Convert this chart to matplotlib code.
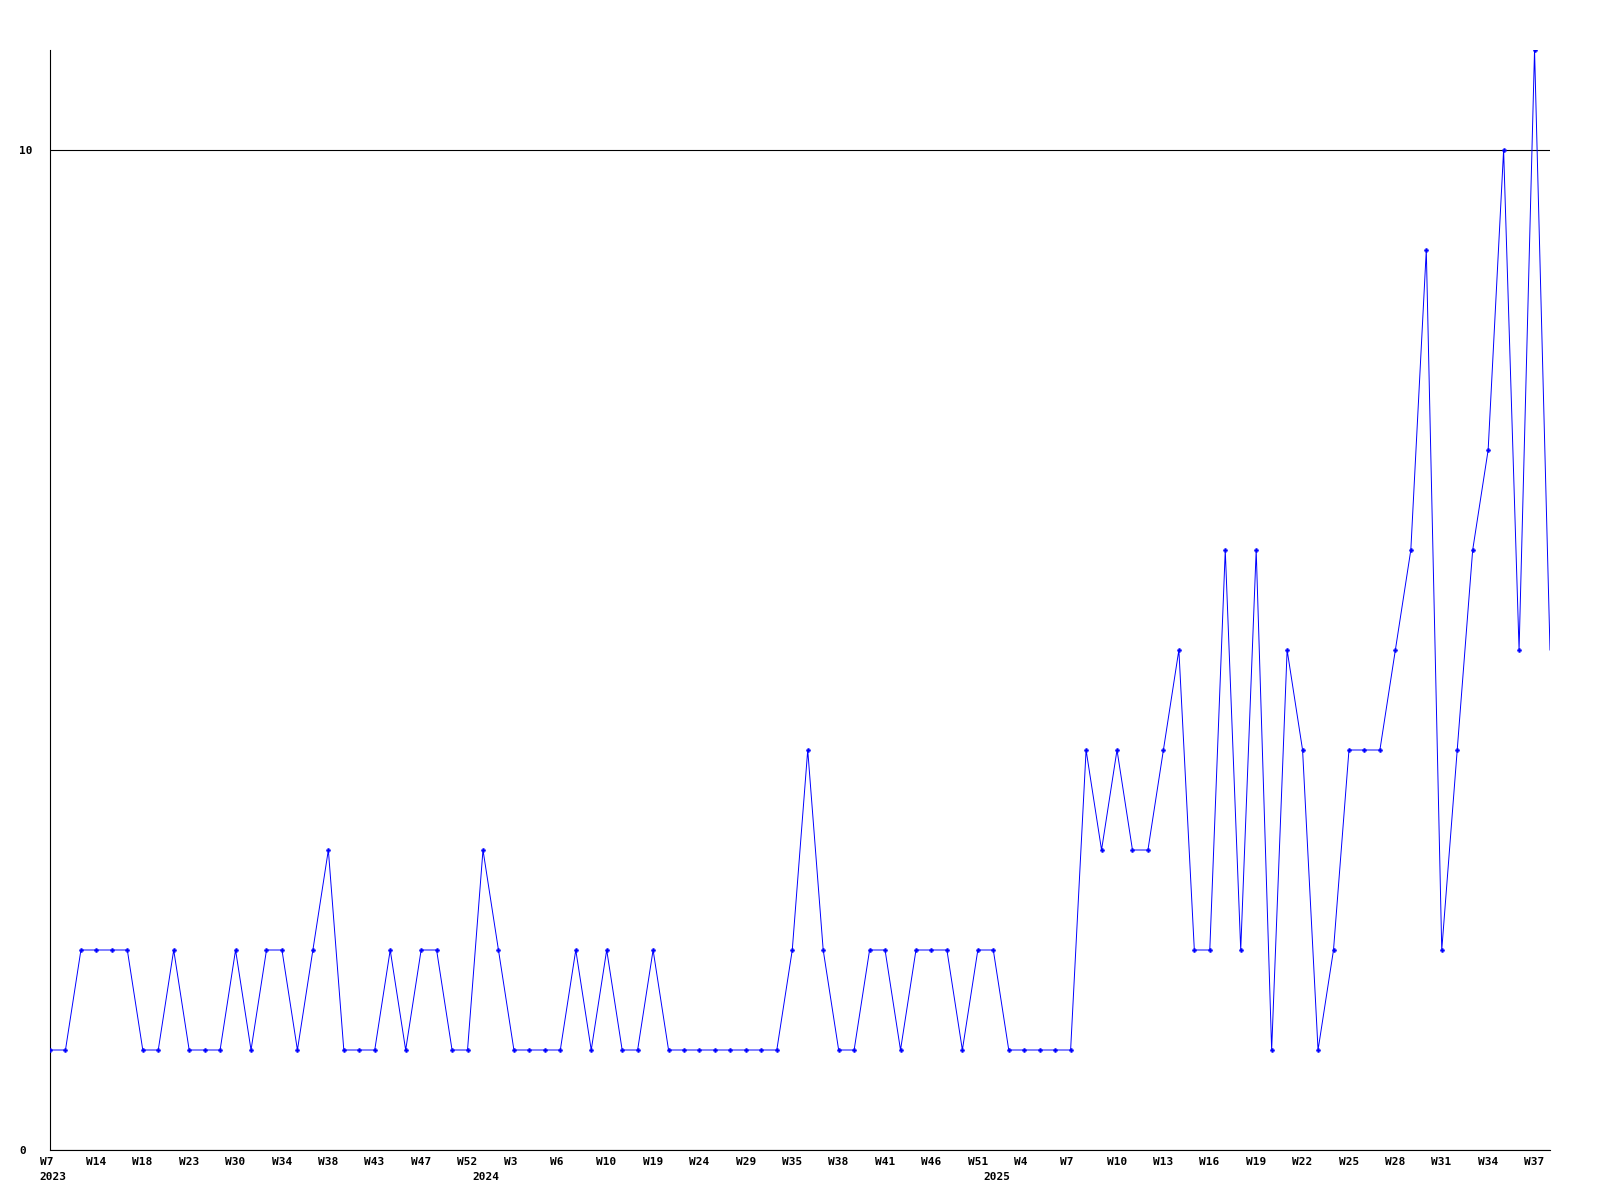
import matplotlib
matplotlib.use("Agg")
import matplotlib.pyplot as plt
from matplotlib.transforms import ScaledTranslation

# weekly counts, one per data point (oldest first)
values = [
    1, 1, 2, 2, 2, 2, 1, 1, 2, 1,
    1, 1, 2, 1, 2, 2, 1, 2, 3, 1,
    1, 1, 2, 1, 2, 2, 1, 1, 3, 2,
    1, 1, 1, 1, 2, 1, 2, 1, 1, 2,
    1, 1, 1, 1, 1, 1, 1, 1, 2, 4,
    2, 1, 1, 2, 2, 1, 2, 2, 2, 1,
    2, 2, 1, 1, 1, 1, 1, 4, 3, 4,
    3, 3, 4, 5, 2, 2, 6, 2, 6, 1,
    5, 4, 1, 2, 4, 4, 4, 5, 6, 9,
    2, 4, 6, 7, 10, 5, 11, 5,
]

# label shown under every third point
week_labels = [
    "W7", "W14", "W18", "W23", "W30", "W34", "W38", "W43", "W47", "W52",
    "W3", "W6", "W10", "W19", "W24", "W29", "W35", "W38", "W41", "W46", "W51",
    "W4", "W7", "W10", "W13", "W16", "W19", "W22", "W25", "W28", "W31", "W34", "W37",
]
label_step = 3

# first point of each year
years = ["2023", "2024", "2025"]
year_start = [0, 28, 61]

font = dict(family="DejaVu Sans Mono", weight="bold", size=8)

fig = plt.figure(figsize=(16, 12), dpi=100)
ax = fig.add_axes([50 / 1600, 50 / 1200, 1500 / 1600, 1100 / 1200])

x = list(range(len(values)))
ax.plot(x, values, color="#0000ff", lw=0.7, zorder=3)
ax.plot(x[:-1], values[:-1], ls="none", marker="P", markersize=3.0,
        markeredgewidth=0.3, color="#0000ff", zorder=4)

ax.set_xlim(0, len(values) - 1)
ax.set_ylim(0, 11)

for s in ["top", "right"]:
    ax.spines[s].set_visible(False)
for s in ["left", "bottom"]:
    ax.spines[s].set_color("black")
    ax.spines[s].set_linewidth(0.8)

ax.set_yticks([0, 10])
ax.set_yticklabels(["0", "10"], fontdict=font, ha="left")
ax.grid(axis="y", color="black", lw=0.8)
ax.tick_params(axis="y", length=0, pad=22.3)

ticks = list(range(0, len(values), label_step))
ax.set_xticks(ticks)
ax.set_xticklabels(week_labels, fontdict=font, ha="left")
ax.tick_params(axis="x", length=0, pad=4.8)
shift = ScaledTranslation(-10.3 / 100, 0, fig.dpi_scale_trans)
for lab in ax.get_xticklabels():
    lab.set_transform(lab.get_transform() + shift)

for yr, i in zip(years, year_start):
    ax.annotate(yr, xy=(i, 0), xycoords=("data", "axes fraction"),
                xytext=(-10.3, -22), textcoords="offset pixels",
                ha="left", va="top", **font)

fig.savefig("out.png", dpi=100)
